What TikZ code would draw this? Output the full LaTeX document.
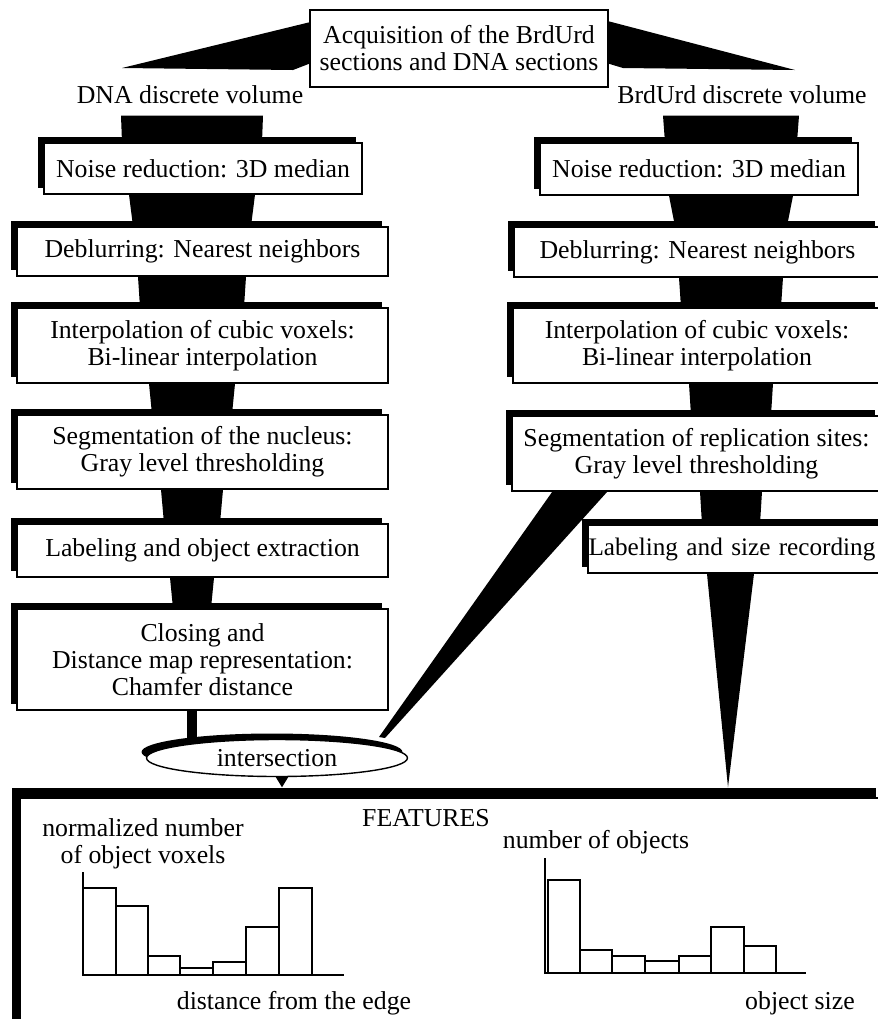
\documentclass[tikz,border=0pt]{standalone}
\usepackage{fontspec}
\setmainfont{Liberation Serif}
\usetikzlibrary{calc, backgrounds, shadows, shapes.geometric}

\newcommand{\figfont}{\fontsize{12.9pt}{13.5pt}\selectfont}
% black trapezoid between two stacked steps: from, to, axis, half widths
\newcommand{\pipe}[5]{%
  \fill ($(#1.south -| #3)+(-#4,0)$) -- ($(#1.south -| #3)+(#4,0)$)
    -- ($(#2.north -| #3)+(#5,0)$) -- ($(#2.north -| #3)+(-#5,0)$) -- cycle;}

\begin{document}
\begin{tikzpicture}[
  x=0.5pt, y=-0.5pt,
  every node/.style={font=\figfont},
  plain/.style={draw, line width=0.7pt, fill=white, align=center, inner sep=0pt},
  box/.style={plain,
    drop shadow={shadow xshift=-3pt, shadow yshift=3pt, fill=black, opacity=1}},
  bigbox/.style={draw, line width=0.7pt, fill=white, inner sep=0pt,
    drop shadow={shadow xshift=-4pt, shadow yshift=5pt, fill=black, opacity=1}},
  oval/.style={ellipse, draw, line width=0.7pt, fill=white, inner sep=0pt,
    drop shadow={shadow xshift=-2.5pt, shadow yshift=3pt, fill=black, opacity=1}},
  vol/.style={inner xsep=0pt, inner ysep=6pt, anchor=base},
  axisline/.style={line width=1pt},
  bar/.style={line width=0.6pt}
]
\clip (0,0) rectangle (878,1019);

% acquisition and the two volumes
\node[plain, minimum width=149pt, minimum height=38.5pt] (acq) at (459,48.5)
  {Acquisition of the BrdUrd\\sections and DNA sections};
\node[vol] (dna) at (190,103) {DNA discrete volume};
\node[vol] (brd) at (742,103) {BrdUrd discrete volume};
\coordinate (ltip) at (122,68);
\coordinate (lfoot) at (293,70);
\coordinate (rtip) at (795,70);
\coordinate (rfoot) at (623,68);
\coordinate (lax) at (192,0);
\coordinate (rax) at (731,0);

% DNA chain
\node[box, minimum width=159pt, minimum height=25.5pt] (nr_l) at (203,168.5)
  {Noise reduction: 3D median};
\node[box, minimum width=185.5pt, minimum height=24.5pt] (db_l) at (202.5,251.5)
  {Deblurring: Nearest neighbors};
\node[box, minimum width=185.5pt, minimum height=37.5pt] (ip_l) at (202.5,345.5)
  {Interpolation of cubic voxels:\\Bi-linear interpolation};
\node[box, minimum width=185.5pt, minimum height=37pt] (sg_l) at (202.5,452)
  {Segmentation of the nucleus:\\Gray level thresholding};
\node[box, minimum width=185.5pt, minimum height=26.5pt] (lb_l) at (202.5,550.5)
  {Labeling and object extraction};
\node[box, minimum width=185.5pt, minimum height=50.5pt] (cl_l) at (202.5,659.5)
  {Closing and\\Distance map representation:\\Chamfer distance};
\node[oval, minimum width=130.5pt, minimum height=18.5pt] (inter) at (277,758)
  {intersection};

% BrdUrd chain
\node[box, minimum width=159pt, minimum height=26pt] (nr_r) at (699,169)
  {Noise reduction: 3D median};
\node[box, minimum width=183.5pt, minimum height=25pt] (db_r) at (697.5,252)
  {Deblurring: Nearest neighbors};
\node[box, minimum width=184pt, minimum height=37.5pt] (ip_r) at (697,345.5)
  {Interpolation of cubic voxels:\\Bi-linear interpolation};
\node[box, minimum width=184.5pt, minimum height=37.5pt] (sg_r) at (696.5,453.5)
  {Segmentation of replication sites:\\Gray level thresholding};
\node[box, text width=148.5pt, inner xsep=0.25pt, align=left, minimum height=24pt,
  font=\fontsize{12.6pt}{13.5pt}\selectfont]
  (lb_r) at (737,549) {Labeling and size recording};

% features
\node[bigbox, minimum width=432pt, minimum height=121pt] (feat) at (452,919) {};
\node (ftitle) at (426,818.5) {FEATURES};
\node[align=center] (ylab1) at (143,844) {normalized number\\of object voxels};
\node (xlab1) at (294,1003) {distance from the edge};
\node (ylab2) at (596,842) {number of objects};
\node (xlab2) at (800,1003) {object size};

% histogram of distances
\draw[axisline] (83,872) -- (83,975) -- (344,975);
\foreach \a/\b/\t in {83/116/888, 116/148/906, 148/180/956, 180/213/968,
                      213/246/962, 246/279/927, 279/312/888}
  \draw[bar] (\a,975) rectangle (\b,\t);

% histogram of sizes
\draw[axisline] (545,858) -- (545,973) -- (806,973);
\foreach \a/\b/\t in {548/580/880, 580/612/950, 612/645/956, 645/679/961,
                      679/711/956, 711/744/927, 744/776/946}
  \draw[bar] (\a,973) rectangle (\b,\t);

% black connectors
\begin{scope}[on background layer]
  \fill ($(acq.north west)+(0,13)$) -- (ltip) -- (lfoot)
    -- ($(acq.south west)+(0,-24)$) -- cycle;
  \fill ($(acq.north east)+(0,12)$) -- (rtip) -- (rfoot)
    -- ($(acq.south east)+(0,-24)$) -- cycle;

  \pipe{dna}{nr_l}{lax}{71}{70}
  \pipe{nr_l}{db_l}{lax}{63}{59}
  \pipe{db_l}{ip_l}{lax}{54}{52}
  \pipe{ip_l}{sg_l}{lax}{43}{40}
  \pipe{sg_l}{lb_l}{lax}{31}{28}
  \pipe{lb_l}{cl_l}{lax}{22}{19}
  \pipe{cl_l}{inter}{lax}{5}{5}

  \pipe{brd}{nr_r}{rax}{68}{66}
  \pipe{nr_r}{db_r}{rax}{62}{56}
  \pipe{db_r}{ip_r}{rax}{52}{50}
  \pipe{ip_r}{sg_r}{rax}{42}{40}
  \pipe{sg_r}{lb_r}{rax}{31}{29}

  \fill ($(lb_r.south -| rax)+(-24,0)$) -- ($(lb_r.south -| rax)+(23,0)$)
    -- ($(feat.north -| rax)+(-3,-10)$) -- cycle;
  \fill ($(sg_r.south west)+(41,0)$) -- ($(sg_r.south west)+(96,0)$)
    -- ($(inter.center)+(108,-20)$) -- ($(inter.center)+(102,-21)$) -- cycle;
  \fill ($(inter.south)+(-3,-3)$) -- ($(inter.south)+(13,-3)$)
    -- ($(inter.south |- feat.north)+(5,-10)$) -- cycle;
\end{scope}

\end{tikzpicture}
\end{document}
